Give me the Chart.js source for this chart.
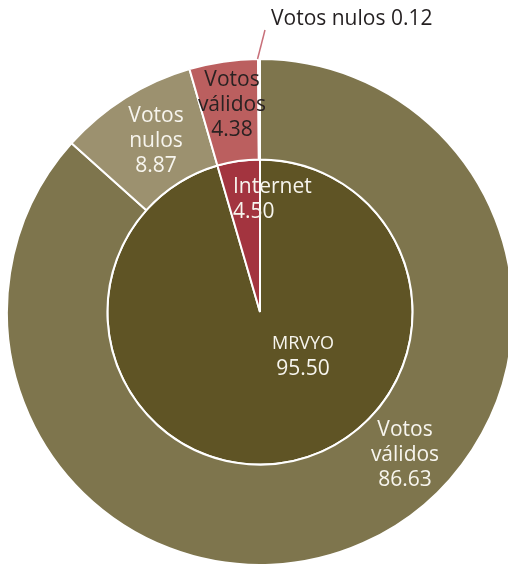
<!DOCTYPE html>
<html>
<head>
<meta charset="utf-8">
<script src="https://cdn.jsdelivr.net/npm/chart.js@4/dist/chart.umd.min.js"></script>
<style>
  html, body { margin: 0; padding: 0; background: #ffffff; overflow: hidden; }
  #wrap { position: absolute; left: 0; top: 0; width: 520px; height: 624px; }
</style>
</head>
<body>
<div id="wrap"><canvas id="c"></canvas></div>
<script>
// ---- data ----
const outerLabels = ['Votos válidos', 'Votos nulos', 'Votos válidos', 'Votos nulos'];
const outerValues = [86.63, 8.87, 4.38, 0.12];
const innerLabels = ['MRVyO', 'Internet'];
const innerValues = [95.50, 4.50];

// ---- styles ----
const outerColors = ['#7e754d', '#9c916f', '#bb5f5f', '#bb5f5f'];
const innerColors = ['#5f5425', '#a3343f'];
const FONT = '"Open Sans", "Noto Sans", sans-serif';

// label placement, offsets from the pie centre (px)
const labelPlacement = [
  // [datasetIndex, dataIndex, dx, dy(first baseline), lineGap, align, color, smallCapsFirst]
  [0, 0, 145, 124, 25, 'center', '#f7f5ee', false],
  [0, 1, -104, -190, 25, 'center', '#f7f5ee', false],
  [0, 2, -28, -226, 25, 'center', '#2a2222', false],
  [1, 0, 43, 37, 26, 'center', '#f7f5ee', true],
  [1, 1, -27, -119, 25, 'left', '#f7f5ee', false]
];

function fmt(v) { return v.toFixed(2); }

const labelPlugin = {
  id: 'sliceLabels',
  afterDatasetsDraw(chart) {
    const ctx = chart.ctx;
    const arc = chart.getDatasetMeta(0).data[0];
    const cx = arc.x, cy = arc.y;
    ctx.save();
    ctx.textBaseline = 'alphabetic';
    labelPlacement.forEach(p => {
      const [di, ii, dx, dy, gap, align, color, sc] = p;
      const name = chart.data.datasets[di].labels[ii];
      const val = chart.data.datasets[di].data[ii];
      let lines;
      if (di === 0) {
        lines = name.split(' ').concat([fmt(val)]);
      } else {
        lines = [name, fmt(val)];
      }
      ctx.fillStyle = color;
      ctx.textAlign = align;
      lines.forEach((t, k) => {
        if (sc && k === 0) {
          ctx.font = '25px ' + FONT;
          try { ctx.fontVariantCaps = 'all-small-caps'; } catch (e) {}
        } else {
          ctx.font = '21px ' + FONT;
          try { ctx.fontVariantCaps = 'normal'; } catch (e) {}
        }
        ctx.fillText(t, cx + dx, cy + dy + k * gap);
      });
    });
    // small slice label with leader line
    const ds = chart.data.datasets[0];
    const idx = 3;
    const el = chart.getDatasetMeta(0).data[idx];
    const mid = (el.startAngle + el.endAngle) / 2;
    const r = el.outerRadius;
    const x0 = cx + Math.cos(mid) * r, y0 = cy + Math.sin(mid) * r;
    ctx.strokeStyle = '#c8707a';
    ctx.lineWidth = 1.5;
    ctx.beginPath();
    ctx.moveTo(x0 - 1.5, y0);
    ctx.lineTo(cx + 5, cy - 282);
    ctx.stroke();
    try { ctx.fontVariantCaps = 'normal'; } catch (e) {}
    ctx.font = '21px ' + FONT;
    ctx.fillStyle = '#231f20';
    ctx.textAlign = 'left';
    ctx.fillText(ds.labels[idx] + ' ' + fmt(ds.data[idx]), cx + 11, cy - 287);
    ctx.restore();
  }
};

new Chart(document.getElementById('c'), {
  type: 'doughnut',
  data: {
    datasets: [
      {
        labels: outerLabels,
        data: outerValues,
        backgroundColor: outerColors,
        borderColor: '#ffffff',
        borderWidth: 2,
        weight: 100
      },
      {
        labels: innerLabels,
        data: innerValues,
        backgroundColor: innerColors,
        borderColor: '#ffffff',
        borderWidth: 2,
        weight: 152
      }
    ]
  },
  options: {
    responsive: true,
    maintainAspectRatio: false,
    animation: false,
    cutout: 0,
    radius: 253,
    layout: { padding: 0 },
    plugins: {
      legend: { display: false },
      tooltip: { enabled: false }
    }
  },
  plugins: [labelPlugin]
});
</script>
</body>
</html>
